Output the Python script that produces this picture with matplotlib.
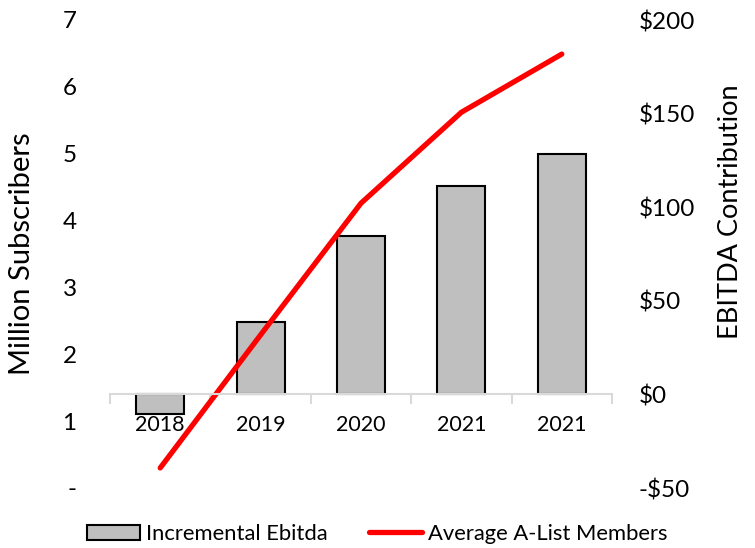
import matplotlib.pyplot as plt
import numpy as np

plt.rcParams['font.family'] = ['Lato', 'DejaVu Sans']

# data
years = ["2018", "2019", "2020", "2021", "2021"]
ebitda = [-10.5, 38.5, 84.5, 111.5, 128.5]        # right axis, $
members = [0.3, 2.29, 4.26, 5.62, 6.49]          # left axis, million

left_ticks = [0, 1, 2, 3, 4, 5, 6, 7]
left_labels = ["-", "1", "2", "3", "4", "5", "6", "7"]
right_ticks = [-50, 0, 50, 100, 150, 200]
right_labels = ["-$50", "$0", "$50", "$100", "$150", "$200"]

fig = plt.figure(figsize=(7.55, 5.48), dpi=100)
ax = fig.add_axes([110/755, 60/548, 502/755, 468/548])
ax2 = ax.twinx()

x = np.arange(len(years))
bars = ax2.bar(x, ebitda, width=0.48, color="#BFBFBF", edgecolor="black",
               linewidth=1.5, label="Incremental Ebitda")
line, = ax.plot(x, members, color="#FF0000", linewidth=3.8,
                solid_capstyle="round", label="Average A-List Members")

ax.set_zorder(ax2.get_zorder() + 1)
ax.patch.set_visible(False)

ax.set_xlim(-0.5, len(years) - 0.5)
ax.set_ylim(0, 7)
ax2.set_ylim(-50, 200)

# category axis sits at $0 of the right scale
zero_left = (0 - (-50)) / 250 * 7
for s in ["top", "left", "right"]:
    ax.spines[s].set_visible(False)
    ax2.spines[s].set_visible(False)
ax2.spines["bottom"].set_visible(False)
ax.spines["bottom"].set_position(("data", zero_left))
ax.spines["bottom"].set_color("#D9D9D9")
ax.spines["bottom"].set_linewidth(1.5)

ax.set_xticks(x)
ax.set_xticklabels(years, fontsize=15.5)
ax.set_xticks(np.arange(-0.5, len(years)), minor=True)
ax.tick_params(axis="x", which="major", length=0, pad=15)
ax.tick_params(axis="x", which="minor", length=7, width=1.5, color="#D9D9D9")

ax.set_yticks(left_ticks)
ax.set_yticklabels(left_labels, fontsize=17.5)
ax.tick_params(axis="y", length=0, pad=24)
ax2.set_yticks(right_ticks)
ax2.set_yticklabels(right_labels, fontsize=17.5)
ax2.tick_params(axis="y", length=0, pad=19)

ax.set_ylabel("Million Subscribers", fontsize=21)
ax.yaxis.set_label_coords(-0.149, 0.5)
ax2.set_ylabel("EBITDA Contribution", fontsize=19.5, rotation=90)
ax2.yaxis.set_label_coords(1.211, 0.59)

fig.legend([bars, line], ["Incremental Ebitda", "Average A-List Members"],
           loc="center", bbox_to_anchor=(0.5, 14/548), ncol=2, frameon=False,
           fontsize=15.8, handlelength=2.4, handletextpad=0.27, columnspacing=1.9)

fig.savefig("out.png", dpi=100)
